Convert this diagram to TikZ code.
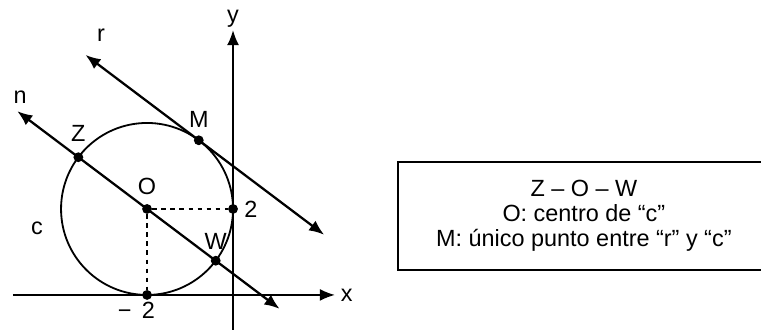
\documentclass[tikz,border=0pt]{standalone}
\usepackage{fontspec}
\setmainfont{Liberation Sans}
\usetikzlibrary{arrows.meta,calc}
\tikzset{
  dot/.style={circle,fill,inner sep=0pt,minimum size=6.5pt},
  axis/.style={line width=1.2pt,-{Latex[length=10pt,width=8pt]}},
  line/.style={line width=1.5pt,{Latex[length=10pt,width=8pt]}-{Latex[length=10pt,width=8pt]}},
  infobox/.style={draw,line width=1.4pt,align=center,minimum width=8.65cm,minimum height=2.51cm}
}
\begin{document}
\begin{tikzpicture}[font=\fontsize{15.5}{16.8}\selectfont,label distance=1pt]
\useasboundingbox (-5.42,-0.84) rectangle (12.28,6.86);
% axes
\coordinate (xl) at (-5.12,0);
\coordinate (xr) at (2.37,0);
\coordinate (yb) at (0,-0.81);
\coordinate (yt) at (0,6.16);
\draw[axis] (xl) -- (xr) node[right] {x};
\draw[axis] (yb) -- (yt) node[above,inner sep=1.5pt] {y};
% circle c
\coordinate (O0) at (-2,2);
\draw[line width=1.2pt] (O0) circle (2);
\node (c) at (-4.56,1.56) {c};
% points
\node[dot,label={[label distance=2.2pt]above:O}] (O) at (O0) {};
\node[dot,label={[label distance=0.5pt]right:2}] (P2) at (0,2) {};
\node[dot,label={[label distance=-2.3pt,xshift=-7pt]below:− \,2}] (Pm2) at (-2,0) {};
\node[dot,label={[label distance=3.2pt]above:Z}] (Z) at ($(O0)+(143:2)$) {};
\node[dot,label={[label distance=0.7pt]above:W}] (W) at ($(O0)+(-37:2)$) {};
\node[dot,label={[label distance=1.2pt]above:M}] (M) at ($(O0)+(53:2)$) {};
\draw[dashed,line width=0.9pt] (O) -- (P2);
\draw[dashed,line width=0.9pt] (O) -- (Pm2);
% line n
\coordinate (n1) at ($(O0)+(143:3.78)$);
\coordinate (n2) at ($(O0)+(-37:3.86)$);
\draw[line] (n1) -- (n2);
\node (n) at (-4.95,4.60) {n};
% line r
\coordinate (r1) at ($(M)+(143:3.3)$);
\coordinate (r2) at ($(M)+(-37:3.65)$);
\draw[line] (r1) -- (r2);
\node (r) at (-3.07,6.05) {r};
% box
\node[infobox] (box) at (8.16,1.84) {Z – O – W\\O: centro de “c”\\M: único punto entre “r” y “c”};
\end{tikzpicture}
\end{document}
